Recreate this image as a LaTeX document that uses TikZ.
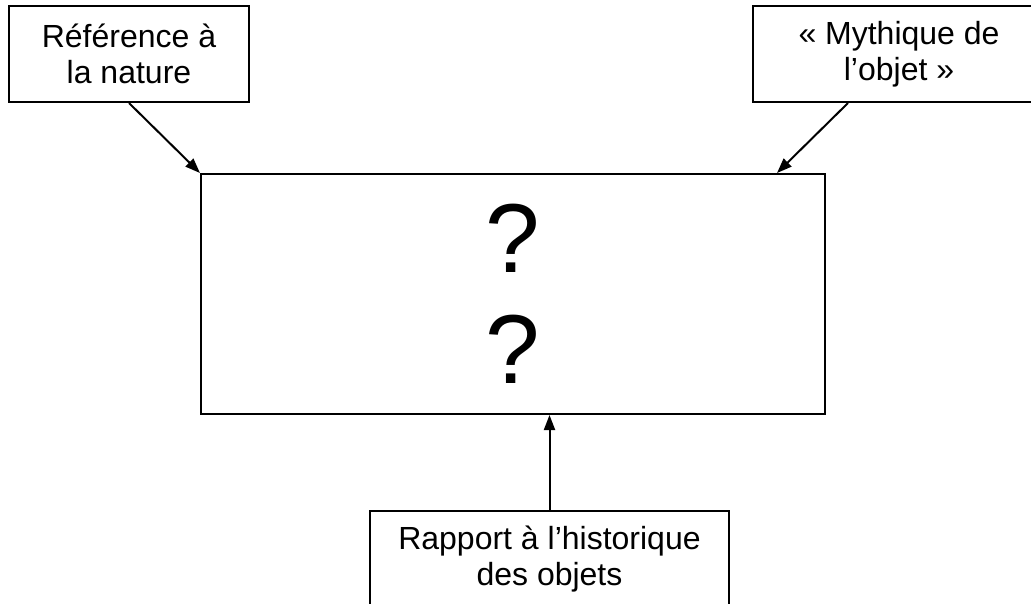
\documentclass[tikz,border=0pt]{standalone}
\usepackage{fontspec}
\setmainfont{Liberation Sans}
\usetikzlibrary{arrows.meta}
\tikzstyle{theme} = [rectangle, minimum height=96pt, inner sep=0pt, align=center, draw=black, line width=2pt, font=\fontsize{32}{36}\selectfont]
\tikzstyle{centre} = [rectangle, minimum width=624pt, minimum height=240pt, align=center, draw=black, line width=2pt, font=\fontsize{98}{111}\selectfont]
\tikzstyle{arrow} = [line width=2pt, -{Triangle[length=15pt, width=11pt]}]

\begin{document}
\begin{tikzpicture}[x=1pt, y=-1pt]
    \useasboundingbox (0,0) rectangle (1031,603);
    \clip (0,0) rectangle (1031,603);
    \node (main) [centre] at (513,294) {?\\?};
    \node (nature) [theme, minimum width=240pt] at (129,54) {Référence à\\la nature};
    \node (mythe) [theme, minimum width=292pt] at (899,54) {« Mythique de\\l’objet »};
    \node (histo) [theme, minimum width=359pt] at (549.5,559) {Rapport à l’historique\\des objets};

    \draw [arrow] (nature.south) -- (main.north west);
    \draw [arrow] ([xshift=-51pt]mythe.south) -- ([xshift=264pt]main.north);
    \draw [arrow] (histo.north) -- (histo.north |- main.south);
\end{tikzpicture}
\end{document}
